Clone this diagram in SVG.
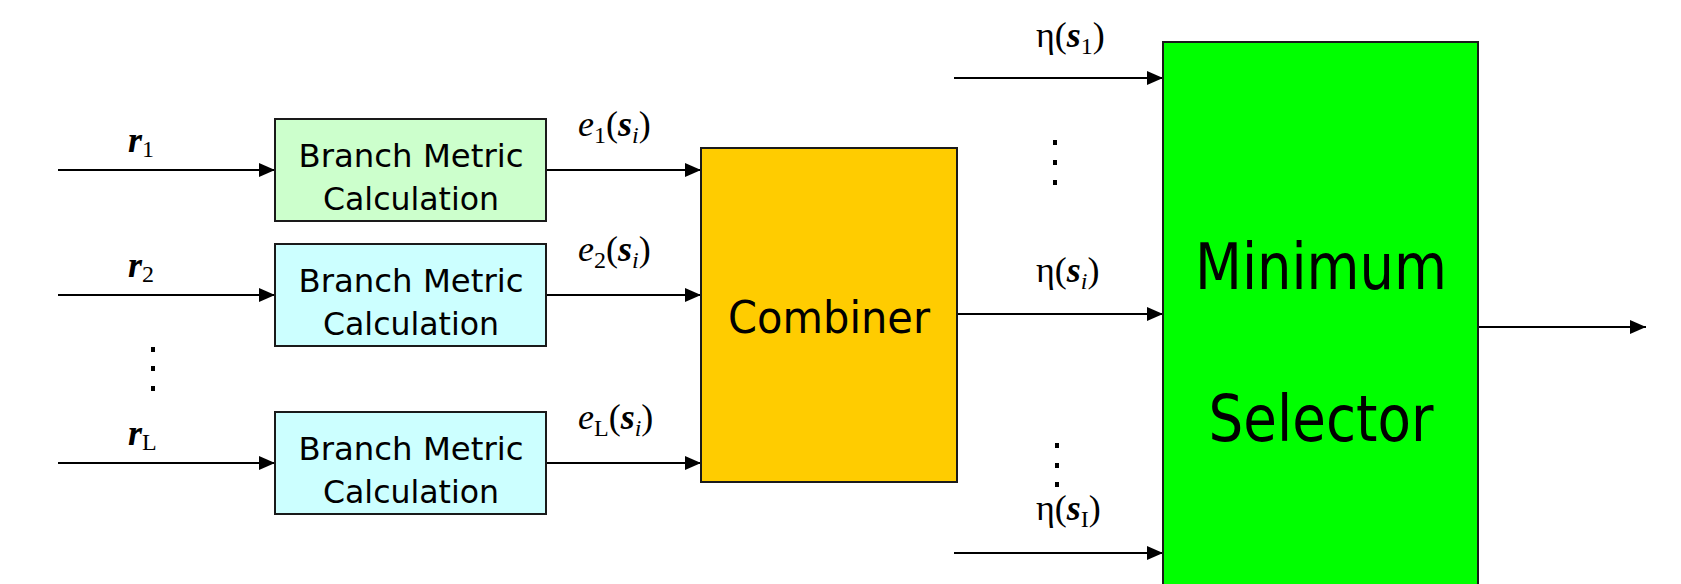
<svg xmlns="http://www.w3.org/2000/svg" width="1681" height="584" viewBox="0 0 1681 584">
<defs>
<marker id="arr" viewBox="0 0 16 14" refX="16" refY="7" markerWidth="16" markerHeight="14" markerUnits="userSpaceOnUse" orient="auto">
<path d="M0,0 L16,7 L0,14 Z" fill="#000"/>
</marker>
<style>
.box{stroke:#1a1a1a;stroke-width:2}
.lbl{font-family:"DejaVu Sans",Verdana,sans-serif;fill:#000;text-anchor:middle}
.m{font-family:"Liberation Serif","Times New Roman",serif;font-size:36px;fill:#000}
.bi{font-weight:bold;font-style:italic}
.it{font-style:italic}
.sub{font-size:24px}
.wire{stroke:#000;stroke-width:2;fill:none}
.dot{fill:#000}
</style>
</defs>
<rect width="1681" height="584" fill="#fff"/>

<g id="connectors">
<line class="wire" x1="58" y1="170" x2="275" y2="170" marker-end="url(#arr)"/>
<line class="wire" x1="58" y1="295" x2="275" y2="295" marker-end="url(#arr)"/>
<line class="wire" x1="58" y1="463" x2="275" y2="463" marker-end="url(#arr)"/>
<line class="wire" x1="546" y1="170" x2="701" y2="170" marker-end="url(#arr)"/>
<line class="wire" x1="546" y1="295" x2="701" y2="295" marker-end="url(#arr)"/>
<line class="wire" x1="546" y1="463" x2="701" y2="463" marker-end="url(#arr)"/>
<line class="wire" x1="954" y1="78" x2="1163" y2="78" marker-end="url(#arr)"/>
<line class="wire" x1="957" y1="314" x2="1163" y2="314" marker-end="url(#arr)"/>
<line class="wire" x1="954" y1="553" x2="1163" y2="553" marker-end="url(#arr)"/>
<line class="wire" x1="1478" y1="327" x2="1646" y2="327" marker-end="url(#arr)"/>
</g>

<g id="labels">
<text class="m" x="128" y="152"><tspan class="bi">r</tspan><tspan class="sub" dy="5">1</tspan></text>
<text class="m" x="128" y="277"><tspan class="bi">r</tspan><tspan class="sub" dy="5">2</tspan></text>
<text class="m" x="128" y="445"><tspan class="bi">r</tspan><tspan class="sub" dy="5">L</tspan></text>

<text class="m" x="578" y="136"><tspan class="it">e</tspan><tspan class="sub" dy="7">1</tspan><tspan dy="-7">(</tspan><tspan class="bi">s</tspan><tspan class="sub it" dy="7">i</tspan><tspan dy="-7">)</tspan></text>
<text class="m" x="578" y="261"><tspan class="it">e</tspan><tspan class="sub" dy="7">2</tspan><tspan dy="-7">(</tspan><tspan class="bi">s</tspan><tspan class="sub it" dy="7">i</tspan><tspan dy="-7">)</tspan></text>
<text class="m" x="578" y="429"><tspan class="it">e</tspan><tspan class="sub" dy="7">L</tspan><tspan dy="-7">(</tspan><tspan class="bi">s</tspan><tspan class="sub it" dy="7">i</tspan><tspan dy="-7">)</tspan></text>

<text class="m" x="1036" y="47">η(<tspan class="bi">s</tspan><tspan class="sub" dy="7">1</tspan><tspan dy="-7">)</tspan></text>
<text class="m" x="1036" y="282">η(<tspan class="bi">s</tspan><tspan class="sub it" dy="7">i</tspan><tspan dy="-7">)</tspan></text>
<text class="m" x="1036" y="520">η(<tspan class="bi">s</tspan><tspan class="sub" dy="7">I</tspan><tspan dy="-7">)</tspan></text>
</g>

<g id="ellipses">
<rect class="dot" x="151" y="347" width="4" height="5"/>
<rect class="dot" x="151" y="366" width="4" height="5"/>
<rect class="dot" x="151" y="386" width="4" height="5"/>
<rect class="dot" x="1053" y="140" width="4" height="5"/>
<rect class="dot" x="1053" y="160" width="4" height="5"/>
<rect class="dot" x="1053" y="180" width="4" height="5"/>
<rect class="dot" x="1055" y="443" width="4" height="5"/>
<rect class="dot" x="1055" y="463" width="4" height="5"/>
<rect class="dot" x="1055" y="482" width="4" height="5"/>
</g>

<g id="bmc1">
<rect class="box" x="275" y="119" width="271" height="102" fill="#CCFFCC"/>
<text class="lbl" x="411" y="167" font-size="32" textLength="225" lengthAdjust="spacingAndGlyphs">Branch Metric</text>
<text class="lbl" x="411" y="210" font-size="32" textLength="176" lengthAdjust="spacingAndGlyphs">Calculation</text>
</g>
<g id="bmc2">
<rect class="box" x="275" y="244" width="271" height="102" fill="#CCFFFF"/>
<text class="lbl" x="411" y="292" font-size="32" textLength="225" lengthAdjust="spacingAndGlyphs">Branch Metric</text>
<text class="lbl" x="411" y="335" font-size="32" textLength="176" lengthAdjust="spacingAndGlyphs">Calculation</text>
</g>
<g id="bmcL">
<rect class="box" x="275" y="412" width="271" height="102" fill="#CCFFFF"/>
<text class="lbl" x="411" y="460" font-size="32" textLength="225" lengthAdjust="spacingAndGlyphs">Branch Metric</text>
<text class="lbl" x="411" y="503" font-size="32" textLength="176" lengthAdjust="spacingAndGlyphs">Calculation</text>
</g>
<g id="combiner">
<rect class="box" x="701" y="148" width="256" height="334" fill="#FFCC00"/>
<text class="lbl" x="829" y="333" font-size="45" textLength="202" lengthAdjust="spacingAndGlyphs">Combiner</text>
</g>
<g id="selector">
<rect class="box" x="1163" y="42" width="315" height="560" fill="#00FF00"/>
<text class="lbl" x="1321" y="289" font-size="64" textLength="252" lengthAdjust="spacingAndGlyphs">Minimum</text>
<text class="lbl" x="1321" y="441" font-size="64" textLength="225" lengthAdjust="spacingAndGlyphs">Selector</text>
</g>
</svg>
